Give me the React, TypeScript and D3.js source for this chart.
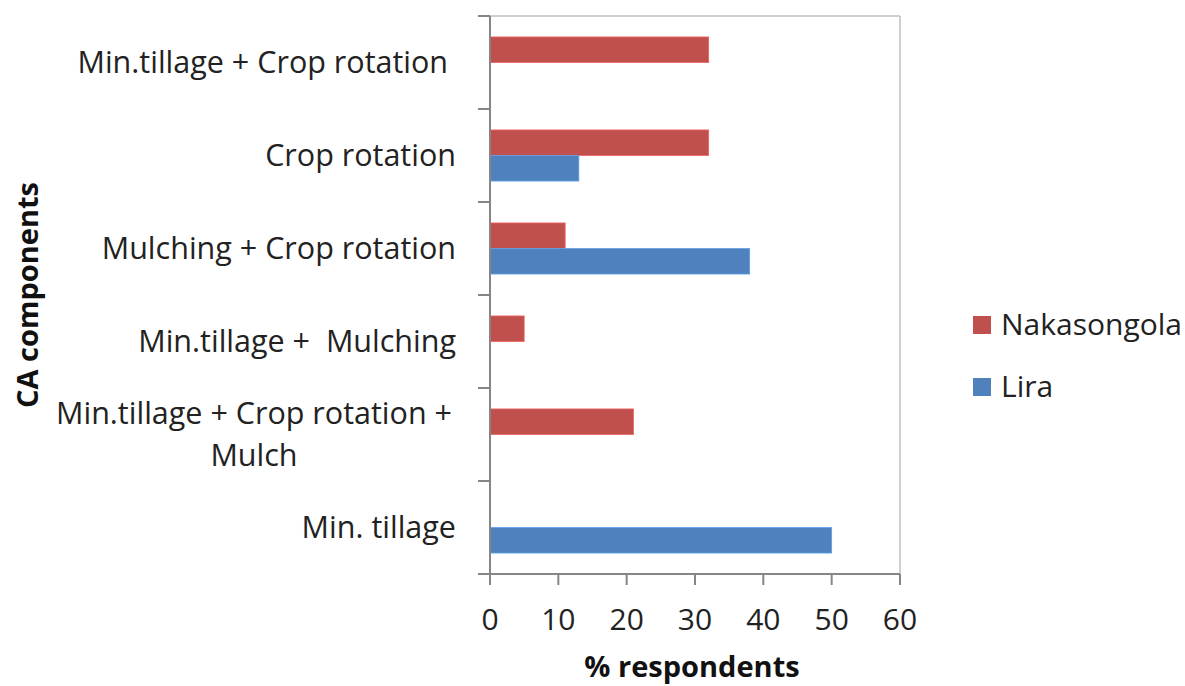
import React from "react";
import * as d3 from "d3";

const categories = [
  "Min.tillage + Crop rotation ",
  "Crop rotation",
  "Mulching + Crop rotation",
  "Min.tillage +  Mulching",
  "Min.tillage + Crop rotation +\nMulch",
  "Min. tillage",
];
const seriesNames = ["Nakasongola", "Lira"];
const nakasongola = [32, 32, 11, 5, 21, 0];
const lira = [0, 13, 38, 0, 0, 50];
const xTicks = [0, 10, 20, 30, 40, 50, 60];
const colors = ["#C0504D", "#4F81BD"];

const FONT = "'Open Sans', sans-serif";

export default function App() {
  const W = 1185, H = 686;
  const left = 490, right = 900, top = 16, bottom = 574;
  const x = d3.scaleLinear().domain([0, 60]).range([left, right]);
  const y = d3.scaleBand<string>().domain(categories).range([top, bottom]).padding(0);
  const sub = d3.scaleBand<string>().domain(seriesNames).range([0, y.bandwidth()]).paddingInner(0).paddingOuter(0.82);
  const values = [nakasongola, lira];
  const tickYs = [...categories.map((c) => y(c)!), bottom];

  return (
    <div style={{ position: "fixed", left: 0, top: 0 }}>
      <svg width={W} height={H} style={{ display: "block", background: "#fff" }}>
        <line x1={left} x2={right} y1={top} y2={top} stroke="#BFBFBF" strokeWidth={1.5} />
        <line x1={right} x2={right} y1={top} y2={bottom} stroke="#BFBFBF" strokeWidth={1.5} />
        {seriesNames.map((s, si) =>
          categories.map((c, ci) => {
            const v = values[si][ci];
            if (!v) return null;
            return (
              <rect
                key={s + ci}
                x={x(0)}
                y={y(c)! + sub(s)!}
                width={x(v) - x(0)}
                height={sub.bandwidth()}
                fill={colors[si]}
                stroke={d3.color(colors[si])!.brighter(0.6).toString()}
                strokeWidth={0.8}
              />
            );
          })
        )}
        <line x1={left} x2={left} y1={top} y2={bottom} stroke="#868686" strokeWidth={2} />
        {tickYs.map((ty, i) => (
          <line key={i} x1={left - 12} x2={left} y1={ty} y2={ty} stroke="#868686" strokeWidth={2} />
        ))}
        <line x1={left} x2={right} y1={bottom} y2={bottom} stroke="#868686" strokeWidth={2} />
        {xTicks.map((t) => (
          <g key={t}>
            <line x1={x(t)} x2={x(t)} y1={bottom} y2={bottom + 11} stroke="#868686" strokeWidth={2} />
            <text x={x(t)} y={630} textAnchor="middle" fontFamily={FONT} fontSize={30} fill="#222">
              {t}
            </text>
          </g>
        ))}
        {categories.map((c) => {
          const lines = c.split("\n");
          const cy = y(c)! + y.bandwidth() / 2;
          const lh = 42;
          const y0 = cy - ((lines.length - 1) * lh) / 2;
          const multi = lines.length > 1;
          return (
            <text
              key={c}
              fontFamily={FONT}
              fontSize={30.5}
              fill="#222"
              style={{ whiteSpace: "pre" }}
              textAnchor={multi ? "middle" : "end"}
            >
              {lines.map((l, i) => (
                <tspan key={i} x={multi ? 254 : 456} y={y0 + i * lh} dy="0.35em">
                  {l}
                </tspan>
              ))}
            </text>
          );
        })}
        <text x={692} y={677} textAnchor="middle" fontFamily={FONT} fontSize={29} fontWeight="bold" fill="#111">
          % respondents
        </text>
        <text
          transform={`translate(38, ${(top + bottom) / 2}) rotate(-90)`}
          textAnchor="middle"
          fontFamily={FONT}
          fontSize={29}
          fontWeight="bold"
          fill="#111"
        >
          CA components
        </text>
        {seriesNames.map((s, i) => (
          <g key={s} transform={`translate(973, ${316 + i * 62})`}>
            <rect x={0} y={0} width={18} height={18} fill={colors[i]} />
            <text x={28} y={19} fontFamily={FONT} fontSize={30} fill="#222">
              {s}
            </text>
          </g>
        ))}
      </svg>
    </div>
  );
}
